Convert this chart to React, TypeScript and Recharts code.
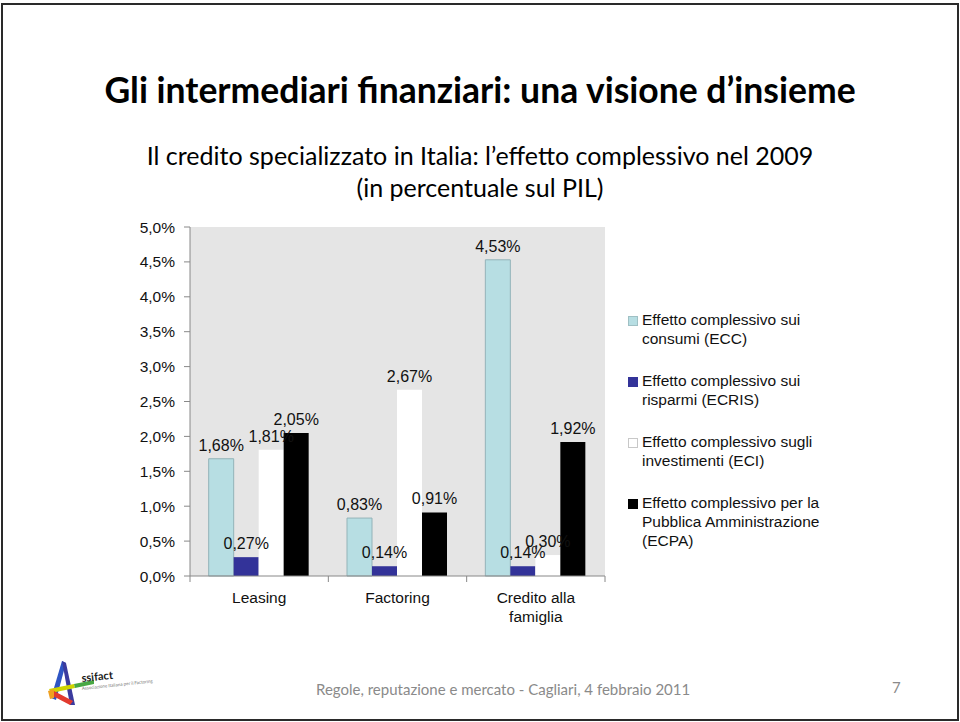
import React from 'react';
import { BarChart, Bar, XAxis, YAxis, CartesianGrid, LabelList, Text } from 'recharts';

const categories = ['Leasing', 'Factoring', 'Credito alla famiglia'];
const ecc = [1.68, 0.83, 4.53];
const ecris = [0.27, 0.14, 0.14];
const eci = [1.81, 2.67, 0.3];
const ecpa = [2.05, 0.91, 1.92];
const yTicks = [0, 0.5, 1, 1.5, 2, 2.5, 3, 3.5, 4, 4.5, 5];

const series = [
    { key: 'ecc', name: 'Effetto complessivo sui consumi (ECC)', fill: '#b7dee3', stroke: '#93b3b8' },
    { key: 'ecris', name: 'Effetto complessivo sui risparmi (ECRIS)', fill: '#333399', stroke: '#333399' },
    { key: 'eci', name: 'Effetto complessivo sugli investimenti (ECI)', fill: '#ffffff', stroke: '#ffffff' },
    { key: 'ecpa', name: 'Effetto complessivo per la Pubblica Amministrazione (ECPA)', fill: '#000000', stroke: '#000000' },
];

const data = categories.map((name, i) => ({
    name,
    ecc: ecc[i],
    ecris: ecris[i],
    eci: eci[i],
    ecpa: ecpa[i],
}));

const chartFont = '"Liberation Sans", Arial, sans-serif';
const slideFont = 'Lato, "Open Sans", sans-serif';

const pct = (v: number) => v.toFixed(2).replace('.', ',') + '%';
const tickPct = (v: number) => v.toFixed(1).replace('.', ',') + '%';

// plot is 415px wide, 3 categories -> half a band for the boundary ticks
const BAND = 415 / categories.length;

const CategoryTick = (props: any) => {
    const { x, y, payload, index } = props;
    return (
        <g>
            <line x1={x - BAND / 2} y1={y - 8} x2={x - BAND / 2} y2={y - 2} stroke="#888" />
            {index === categories.length - 1 && (
                <line x1={x + BAND / 2} y1={y - 8} x2={x + BAND / 2} y2={y - 2} stroke="#888" />
            )}
            <Text
                x={x}
                y={y + 8}
                width={110}
                textAnchor="middle"
                verticalAnchor="start"
                lineHeight={19}
                style={{ fontFamily: chartFont, fontSize: 15.5, fill: '#111' }}
            >
                {payload.value}
            </Text>
        </g>
    );
};

const LegendBox = () => (
    <div style={{ position: 'absolute', left: 628, top: 310, width: 215, fontFamily: chartFont, fontSize: 15.5, color: '#111' }}>
        {series.map(s => (
            <div key={s.key} style={{ display: 'flex', alignItems: 'flex-start', height: 61 }}>
                <div
                    style={{
                        width: 8,
                        height: 8,
                        marginTop: 6,
                        marginRight: 4,
                        flex: 'none',
                        background: s.fill,
                        border: s.key === 'eci' ? '1px solid #c8c8c8' : s.key === 'ecc' ? '1px solid #9fc0c4' : `1px solid ${s.fill}`,
                    }}
                />
                <div style={{ lineHeight: '19px', width: 200 }}>{s.name}</div>
            </div>
        ))}
    </div>
);

const Logo = () => (
    <svg width={110} height={52} style={{ position: 'absolute', left: 44, top: 658 }}>
        <polygon points="18,3 22,5 12,42 7,40" fill="#2e55c4" />
        <polygon points="18,3 22,5 31,47 26,47" fill="#3b3b9e" />
        <polygon points="5,31 30,26 31,30 7,35" fill="#cfd400" />
        <polygon points="30,26 50,22 50,26 31,30" fill="#48a844" />
        <polygon points="7,37 26,47 29,43 10,33" fill="#e23a2e" />
        <polygon points="4,33 10,31 10,40 6,41" fill="#f0a020" />
        <text x={38} y={24} transform="rotate(-6 38 24)" style={{ fontFamily: 'Lato, sans-serif', fontSize: 11, fontWeight: 700, fill: '#1a1a1a' }}>
            ssifact
        </text>
        <text x={38} y={32} transform="rotate(-6 38 32)" style={{ fontFamily: 'Lato, sans-serif', fontSize: 4.5, fill: '#777' }}>
            Associazione Italiana per il Factoring
        </text>
    </svg>
);

export default function App() {
    return (
        <div style={{ position: 'absolute', left: 0, top: 0, width: 960, height: 722, background: '#fff', overflow: 'hidden' }}>
            {/* slide frame */}
            <div style={{ position: 'absolute', left: 1, top: 3, width: 954, height: 714, border: '2px solid #2a2a2a' }} />

            <div style={{ position: 'absolute', left: 0, top: 68, width: 960, textAlign: 'center', fontFamily: slideFont, fontWeight: 700, fontSize: 35.5, color: '#000' }}>
                Gli intermediari finanziari: una visione d’insieme
            </div>
            <div style={{ position: 'absolute', left: 0, top: 139, width: 960, textAlign: 'center', fontFamily: slideFont, fontSize: 25, lineHeight: '32px', color: '#000' }}>
                Il credito specializzato in Italia: l’effetto complessivo nel 2009
                <br />
                (in percentuale sul PIL)
            </div>

            <div style={{ position: 'absolute', left: 125, top: 212 }}>
                <BarChart
                    width={710}
                    height={430}
                    data={data}
                    margin={{ top: 15, right: 230, bottom: 16, left: 0 }}
                    barCategoryGap="13.5%"
                    barGap={0}
                >
                    <CartesianGrid horizontal={false} vertical={false} fill="#e5e5e5" />
                    <XAxis
                        dataKey="name"
                        height={50}
                        axisLine={{ stroke: '#888' }}
                        tickLine={false}
                        interval={0}
                        tick={<CategoryTick />}
                    />
                    <YAxis
                        width={65}
                        domain={[0, 5]}
                        ticks={yTicks}
                        tickFormatter={tickPct}
                        axisLine={{ stroke: '#888' }}
                        tickLine={{ stroke: '#888' }}
                        tickSize={6}
                        tickMargin={9}
                        tick={{ fontFamily: chartFont, fontSize: 15.5, fill: '#111' }}
                    />
                    {series.map(s => (
                        <Bar key={s.key} dataKey={s.key} name={s.name} fill={s.fill} stroke={s.key === 'ecc' ? s.stroke : 'none'} strokeWidth={1} isAnimationActive={false}>
                            <LabelList
                                dataKey={s.key}
                                position="top"
                                offset={8}
                                formatter={(v: any) => pct(Number(v))}
                                style={{ fontFamily: chartFont, fontSize: 16, fill: '#111' }}
                            />
                        </Bar>
                    ))}
                </BarChart>
            </div>

            <LegendBox />
            <Logo />

            <div style={{ position: 'absolute', left: 316, top: 680, fontFamily: slideFont, fontSize: 15, color: '#8a8a8a' }}>
                Regole, reputazione e mercato - Cagliari, 4 febbraio 2011
            </div>
            <div style={{ position: 'absolute', left: 892, top: 678, fontFamily: slideFont, fontSize: 15, color: '#8a8a8a' }}>7</div>
        </div>
    );
}
